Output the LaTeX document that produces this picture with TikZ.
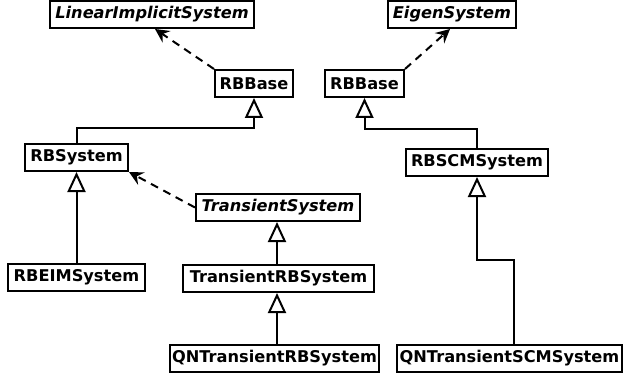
\documentclass[tikz,border=0pt]{standalone}
\usepackage{fontspec}
\setmainfont{DejaVu Sans}
\usetikzlibrary{arrows.meta,calc}
\begin{document}
\begin{tikzpicture}[x=1pt,y=-1pt,
  cls/.style={draw, line width=2pt, inner sep=0pt, minimum height=27pt, font=\fontsize{16.2}{18}\selectfont\bfseries},
  abs/.style={cls, font=\fontsize{16.2}{18}\selectfont\bfseries\itshape},
  inh/.style={line width=2pt, -{Triangle[open, length=20pt, width=18pt, line width=2pt]}},
  real/.style={line width=2pt, dash pattern=on 8pt off 6pt, -{Stealth[length=14pt, width=14pt, inset=5pt]}}]
\useasboundingbox (0,0) rectangle (624,377);
\node[abs, minimum width=204pt] (lis) at (152,14.5) {LinearImplicitSystem};
\node[cls, minimum width=78pt] (rbbL) at (254,83.5) {RBBase};
\node[cls, minimum width=103pt] (rbsys) at (76.5,157.5) {RBSystem};
\node[abs, minimum width=128pt] (eig) at (452,14.5) {EigenSystem};
\node[cls, minimum width=79pt] (rbbR) at (364.5,83.5) {RBBase};
\node[cls, minimum width=142pt] (rbscm) at (477,162.5) {RBSCMSystem};
\node[abs, minimum width=164pt] (trs) at (278,207.5) {TransientSystem};
\node[cls, minimum width=137pt] (eim) at (76.5,277.5) {RBEIMSystem};
\node[cls, minimum width=191pt] (trb) at (278.5,278.5) {TransientRBSystem};
\node[cls, minimum width=209pt] (qntrb) at (274.5,358.5) {QNTransientRBSystem};
\node[cls, minimum width=225pt] (qnscm) at (509.5,358.5) {QNTransientSCMSystem};
% realizations
\draw[real] (rbbL.north west) -- ([xshift=3pt]lis.south);
\draw[real] (rbbR.north east) -- ([xshift=-2pt]eig.south);
\draw[real] (trs.west) -- (rbsys.south east);
% inheritance
\draw[inh] (rbsys.north) -- ++(0,-15) -| (rbbL.south);
\draw[inh] (rbscm.north) -- ++(0,-19) -| (rbbR.south);
\draw[inh] ([xshift=4.5pt]qnscm.north) -- ++(0,-84) -| (rbscm.south);
\draw[inh] (eim.north) -- (rbsys.south);
\draw[inh] ([xshift=-1pt]trs.south |- trb.north) -- ([xshift=-1pt]trs.south);
\draw[inh] ([xshift=-1pt]trs.south |- qntrb.north) -- ([xshift=-1pt]trs.south |- trb.south);
\end{tikzpicture}
\end{document}
